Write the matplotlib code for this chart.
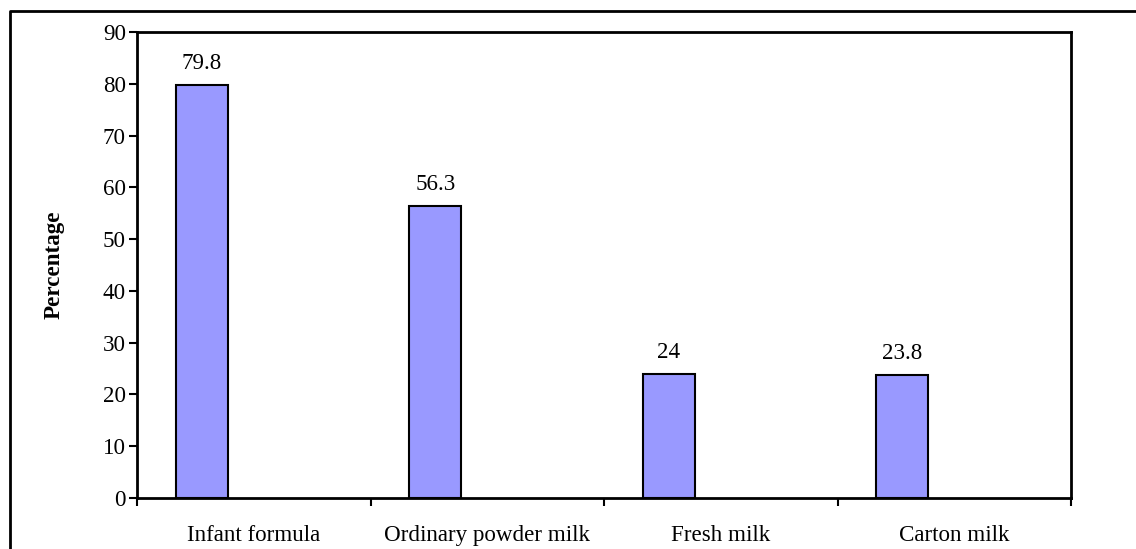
import matplotlib
matplotlib.use("Agg")
import matplotlib.pyplot as plt
from matplotlib.lines import Line2D
import numpy as np

categories = ["Infant formula", "Ordinary powder milk", "Fresh milk", "Carton milk"]
percentages = [79.8, 56.3, 24, 23.8]
value_labels = ["79.8", "56.3", "24", "23.8"]
y_ticks = [0, 10, 20, 30, 40, 50, 60, 70, 80, 90]

plt.rcParams["font.family"] = ["Liberation Serif", "DejaVu Serif"]
FS = 16.6

W, H = 1136, 549
fig = plt.figure(figsize=(W / 100, H / 100), dpi=100)
ax = fig.add_axes([137 / W, 1 - 498 / H, (1071 - 137) / W, (498 - 32) / H])

# Excel-style clustered layout: three slots per category with 150% gap, first slot used
slot = 1 / 4.5
x = np.arange(len(categories))
centers = x - 0.5 + 0.75 * slot + slot / 2
ax.bar(centers, percentages, width=slot, color="#9999FF", edgecolor="black", linewidth=1.5, zorder=3)

for cx, v, lab in zip(centers, percentages, value_labels):
    ax.annotate(lab, (cx, v), xytext=(0, 11.6), textcoords="offset points",
                ha="center", va="baseline", fontsize=FS)

ax.set_xlim(-0.5, len(categories) - 0.5)
ax.set_ylim(0, 90)
ax.set_yticks(y_ticks)
ax.set_xticks(np.arange(len(categories) + 1) - 0.5)
ax.set_xticklabels([])
ax.set_xticks(x, minor=True)
ax.set_xticklabels(categories, minor=True)
ax.tick_params(axis="x", which="minor", length=0, pad=31, labelsize=FS)
for t in ax.get_xticklabels(minor=True):
    t.set_va("baseline")
ax.tick_params(axis="x", which="major", length=6, width=1.5, direction="out")
ax.tick_params(axis="y", length=6, width=1.5, direction="out", pad=2, labelsize=FS)

for s in ax.spines.values():
    s.set_linewidth(2)
    s.set_color("black")

ax.set_ylabel("Percentage", fontsize=FS, fontweight="bold")
ax.yaxis.set_label_coords(-0.078, 0.5)

# Outer chart frame (left and top edges)
fig.add_artist(Line2D([10 / W, 10 / W, 1.0], [0.0, 1 - 11 / H, 1 - 11 / H],
                      transform=fig.transFigure, color="black", linewidth=2))

fig.savefig("out.png", dpi=100)
